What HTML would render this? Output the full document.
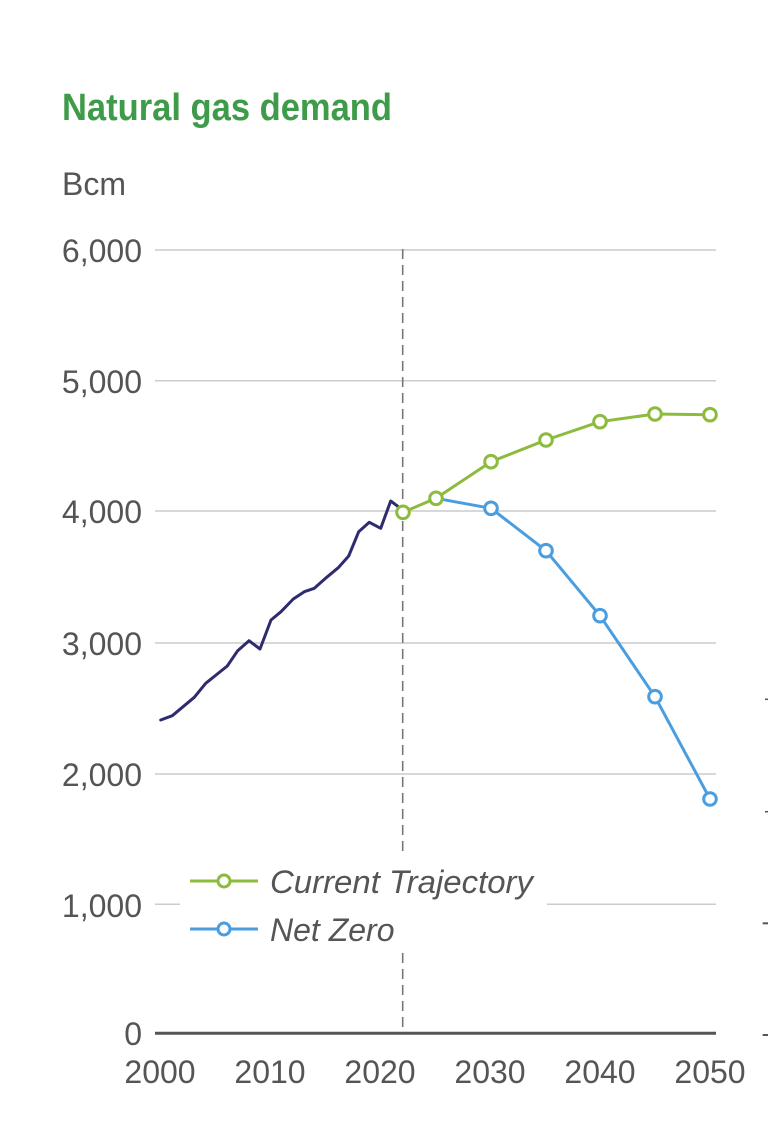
<!DOCTYPE html>
<html>
<head>
<meta charset="utf-8">
<style>
  html,body{margin:0;padding:0;background:#fff;}
  svg{display:block;}
  text{font-family:"Liberation Sans", sans-serif;}
</style>
</head>
<body>
<svg width="768" height="1121" viewBox="0 0 768 1121" xmlns="http://www.w3.org/2000/svg">
  <rect x="0" y="0" width="768" height="1121" fill="#fff"/>

  <!-- Title -->
  <text x="62" y="120" font-size="38" font-weight="bold" fill="#3d9b49" textLength="330" lengthAdjust="spacingAndGlyphs">Natural gas demand</text>
  <text x="62" y="195" font-size="32" fill="#555">Bcm</text>

  <!-- Gridlines -->
  <g stroke="#cccccc" stroke-width="1.5">
    <line x1="155" y1="250" x2="716" y2="250"/>
    <line x1="155" y1="380.7" x2="716" y2="380.7"/>
    <line x1="155" y1="511" x2="716" y2="511"/>
    <line x1="155" y1="643" x2="716" y2="643"/>
    <line x1="155" y1="774" x2="716" y2="774"/>
    <line x1="155" y1="904.3" x2="716" y2="904.3"/>
  </g>

  <!-- Y labels -->
  <g font-size="32" fill="#555" text-anchor="end">
    <text x="142" y="262">6,000</text>
    <text x="142" y="393">5,000</text>
    <text x="142" y="523">4,000</text>
    <text x="142" y="655">3,000</text>
    <text x="142" y="786">2,000</text>
    <text x="142" y="917">1,000</text>
    <text x="142" y="1045">0</text>
  </g>

  <!-- Dashed vertical line -->
  <line x1="402.7" y1="249" x2="402.7" y2="1033" stroke="#777" stroke-width="1.6" stroke-dasharray="10,6"/>

  <!-- Axis -->
  <line x1="155" y1="1033.3" x2="716" y2="1033.3" stroke="#555" stroke-width="3"/>

  <!-- X labels -->
  <g font-size="32" fill="#555" text-anchor="middle">
    <text x="160" y="1083">2000</text>
    <text x="270" y="1083">2010</text>
    <text x="380" y="1083">2020</text>
    <text x="490" y="1083">2030</text>
    <text x="600" y="1083">2040</text>
    <text x="710" y="1083">2050</text>
  </g>

  <!-- Right edge ticks -->
  <g stroke="#555">
    <line x1="765" y1="699.3" x2="768" y2="699.3" stroke-width="1.5"/>
    <line x1="765" y1="811.7" x2="768" y2="811.7" stroke-width="1.5"/>
    <line x1="762.7" y1="923.3" x2="768" y2="923.3" stroke-width="2"/>
    <line x1="762.7" y1="1035" x2="768" y2="1035" stroke-width="2"/>
  </g>

  <!-- Historical -->
  <polyline fill="none" stroke="#2e2c6e" stroke-width="3" stroke-linejoin="round" stroke-linecap="round"
    points="160.7,720 172.3,715.7 194.3,697.3 205.7,683.3 227.3,666 237.7,650.7 249,640.7 260,649 271,620 281,611.7 293.3,599 304.3,591.7 314.3,588.3 326.7,577.3 338.7,567.3 348.7,556 358.7,531.7 369.3,522.3 380.7,528.3 390.7,501 398.3,506.7 402,510"/>

  <!-- Net Zero -->
  <polyline fill="none" stroke="#4a9ee0" stroke-width="3" stroke-linejoin="round"
    points="436,498.3 491,508.3 546,550.7 600,615.7 655,696.7 710,799"/>

  <!-- Current Trajectory -->
  <polyline fill="none" stroke="#8dbb3e" stroke-width="3" stroke-linejoin="round"
    points="403,512.3 436,498.3 491,461.7 546,440 600,421.7 655,414 710,414.7"/>

  <!-- Net Zero markers -->
  <g fill="#fff" stroke="#4a9ee0" stroke-width="3">
    <circle cx="491" cy="508.3" r="6.3"/>
    <circle cx="546" cy="550.7" r="6.3"/>
    <circle cx="600" cy="615.7" r="6.3"/>
    <circle cx="655" cy="696.7" r="6.3"/>
    <circle cx="710" cy="799" r="6.3"/>
  </g>

  <!-- Current Trajectory markers -->
  <g fill="#fff" stroke="#8dbb3e" stroke-width="3">
    <circle cx="403" cy="512.3" r="6.3"/>
    <circle cx="436" cy="498.3" r="6.3"/>
    <circle cx="491" cy="461.7" r="6.3"/>
    <circle cx="546" cy="440" r="6.3"/>
    <circle cx="600" cy="421.7" r="6.3"/>
    <circle cx="655" cy="414" r="6.3"/>
    <circle cx="710" cy="414.7" r="6.3"/>
  </g>

  <!-- Legend -->
  <rect x="180" y="855" width="367" height="96" fill="#fff"/>
  <line x1="190" y1="881" x2="258" y2="881" stroke="#8dbb3e" stroke-width="3"/>
  <circle cx="224" cy="881" r="6" fill="#fff" stroke="#8dbb3e" stroke-width="3"/>
  <line x1="190" y1="929" x2="258" y2="929" stroke="#4a9ee0" stroke-width="3"/>
  <circle cx="224" cy="929" r="6" fill="#fff" stroke="#4a9ee0" stroke-width="3"/>
  <text x="270" y="893" font-size="32" font-style="italic" fill="#555" textLength="263" lengthAdjust="spacingAndGlyphs">Current Trajectory</text>
  <text x="270" y="941" font-size="32" font-style="italic" fill="#555">Net Zero</text>
</svg>
</body>
</html>
